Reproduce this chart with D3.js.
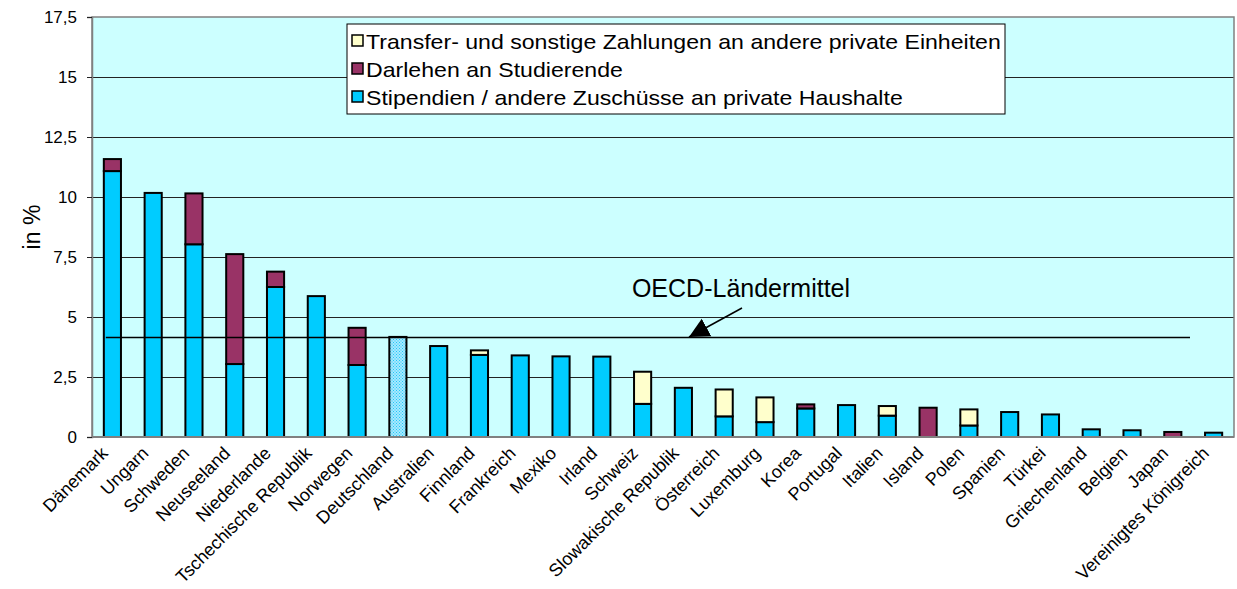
<!DOCTYPE html>
<html>
<head>
<meta charset="utf-8">
<script src="https://cdn.jsdelivr.net/npm/d3@7"></script>
<style>
  html, body { margin: 0; padding: 0; background: #fff; }
  svg { display: block; font-family: Arial, "Liberation Sans", sans-serif; }
</style>
</head>
<body>
<svg id="chart" width="1237" height="589"></svg>
<script>
// ── Data ─────────────────────────────────────────────
const countries = ['Dänemark','Ungarn','Schweden','Neuseeland','Niederlande','Tschechische Republik',
  'Norwegen','Deutschland','Australien','Finnland','Frankreich','Mexiko','Irland','Schweiz',
  'Slowakische Republik','Österreich','Luxemburg','Korea','Portugal','Italien','Island','Polen',
  'Spanien','Türkei','Griechenland','Belgien','Japan','Vereinigtes Königreich'];
const stipendien = [11.08,10.17,8.03,3.04,6.25,5.87,3.00,4.17,3.79,3.42,3.40,3.36,3.35,1.38,
  2.05,0.86,0.62,1.19,1.33,0.89,0,0.48,1.04,0.94,0.32,0.28,0,0.18];
const darlehen   = [0.50,0,2.12,4.58,0.64,0,1.55,0,0,0,0,0,0,0,
  0,0,0,0.17,0,0,1.22,0,0,0,0,0,0.21,0];
const transfer   = [0,0,0,0,0,0,0,0,0,0.19,0,0,0,1.34,
  0,1.12,1.03,0,0,0.40,0,0.67,0,0,0,0,0,0];
const oecdMean = 4.17;
const highlight = 'Deutschland';
const yTicks = [0, 2.5, 5, 7.5, 10, 12.5, 15, 17.5];

const seriesKeys   = ['stipendien','darlehen','transfer'];
const seriesLabels = ['Stipendien / andere Zuschüsse an private Haushalte','Darlehen an Studierende',
  'Transfer- und sonstige Zahlungen an andere private Einheiten'];
const seriesColors = ['#00ccff','#993366','#ffffcc'];

// ── Layout ───────────────────────────────────────────
const svg = d3.select('#chart');
const M = { left: 92, right: 1234, top: 17, bottom: 437 };

const rows = countries.map((c, i) => ({ country: c, stipendien: stipendien[i], darlehen: darlehen[i], transfer: transfer[i] }));
const stacked = d3.stack().keys(seriesKeys)(rows);

const x = d3.scaleBand().domain(countries).range([M.left, M.right]).paddingInner(0.58).paddingOuter(0.29);
const y = d3.scaleLinear().domain([0, 17.5]).range([M.bottom, M.top]);
const fmt = d3.formatLocale({ decimal: ',', thousands: '.', grouping: [3], currency: ['', '€'] }).format('~g');

// dotted fill for Deutschland
const defs = svg.append('defs');
const pat = defs.append('pattern').attr('id', 'dots').attr('width', 3).attr('height', 3).attr('patternUnits', 'userSpaceOnUse');
pat.append('rect').attr('width', 3).attr('height', 3).attr('fill', '#a6e9ff');
pat.append('rect').attr('width', 1).attr('height', 1).attr('fill', '#22c8f5');
pat.append('rect').attr('x', 1.5).attr('y', 1.5).attr('width', 1).attr('height', 1).attr('fill', '#22c8f5');

// plot background
svg.append('rect').attr('x', M.left).attr('y', M.top).attr('width', M.right - M.left).attr('height', M.bottom - M.top)
  .attr('fill', '#ccffff');

// grid
svg.append('g').selectAll('line').data(yTicks.filter(t => t > 0 && t < 17.5)).join('line')
  .attr('x1', M.left).attr('x2', M.right)
  .attr('y1', d => Math.round(y(d)) + 0.5).attr('y2', d => Math.round(y(d)) + 0.5)
  .attr('stroke', '#222').attr('stroke-width', 1);

// plot border
svg.append('rect').attr('x', M.left).attr('y', M.top).attr('width', M.right - M.left).attr('height', M.bottom - M.top)
  .attr('fill', 'none').attr('stroke', '#808080').attr('stroke-width', 1.5);

// y axis
const yAxis = svg.append('g').attr('transform', `translate(${M.left},0)`)
  .call(d3.axisLeft(y).tickValues(yTicks).tickFormat(fmt).tickSize(5).tickPadding(10));
yAxis.select('.domain').attr('stroke', '#808080').attr('stroke-width', 1.5);
yAxis.selectAll('.tick line').attr('stroke', '#222');
yAxis.selectAll('text').attr('font-size', 17).attr('fill', '#000').attr('font-family', 'Arial, "Liberation Sans", sans-serif');

svg.append('text').attr('transform', `translate(32,227) rotate(-90)`).attr('text-anchor', 'middle')
  .attr('dy', '0.35em').attr('font-size', 23).text('in %');

// bars
const layers = svg.append('g').selectAll('g').data(stacked).join('g')
  .attr('fill', (d, i) => seriesColors[i]);
layers.selectAll('rect').data(d => d.filter(s => s[1] - s[0] > 0)).join('rect')
  .attr('x', d => x(d.data.country))
  .attr('width', x.bandwidth())
  .attr('y', d => y(d[1]))
  .attr('height', d => y(d[0]) - y(d[1]))
  .attr('fill', d => d.data.country === highlight ? 'url(#dots)' : null)
  .attr('stroke', '#000')
  .attr('stroke-width', 2);

// x axis bottom line
svg.append('line').attr('x1', M.left).attr('x2', M.right).attr('y1', M.bottom).attr('y2', M.bottom)
  .attr('stroke', '#808080').attr('stroke-width', 2);

// x labels
svg.append('g').selectAll('text').data(countries).join('text')
  .attr('transform', d => `translate(${x(d) + x.bandwidth() / 2 - 8},${M.bottom + 13}) rotate(-45)`)
  .attr('text-anchor', 'end').attr('font-size', 18).attr('dy', '0.35em')
  .text(d => d);

// OECD mean line
const meanX0 = x(countries[0]) + 2, meanX1 = 1190;
svg.append('line').attr('x1', meanX0).attr('x2', meanX1)
  .attr('y1', Math.round(y(oecdMean)) + 0.5).attr('y2', Math.round(y(oecdMean)) + 0.5)
  .attr('stroke', '#000').attr('stroke-width', 1.5);

// annotation
defs.append('marker').attr('id', 'arrow').attr('viewBox', '0 0 10 10').attr('refX', 10).attr('refY', 5)
  .attr('markerWidth', 20).attr('markerHeight', 21).attr('orient', 'auto').attr('markerUnits', 'userSpaceOnUse')
  .append('path').attr('d', 'M0,0 L10,5 L0,10 Z').attr('fill', '#000');
svg.append('line').attr('x1', 742).attr('y1', 308).attr('x2', 689).attr('y2', Math.round(y(oecdMean)))
  .attr('stroke', '#000').attr('stroke-width', 1.5).attr('marker-end', 'url(#arrow)');
svg.append('text').attr('x', 741).attr('y', 297).attr('text-anchor', 'middle').attr('font-size', 25)
  .text('OECD-Ländermittel');

// legend
const lg = svg.append('g');
lg.append('rect').attr('x', 347).attr('y', 24).attr('width', 658).attr('height', 90)
  .attr('fill', '#fff').attr('stroke', '#000').attr('stroke-width', 1);
const order = [2, 1, 0];
order.forEach((si, r) => {
  const yy = 41 + r * 28;
  lg.append('rect').attr('x', 352).attr('y', yy - 6).attr('width', 11).attr('height', 11)
    .attr('fill', seriesColors[si]).attr('stroke', '#000').attr('stroke-width', 1.5);
  const t = lg.append('text').attr('x', 366).attr('y', yy).attr('dy', '0.36em').attr('font-size', 21)
    .text(seriesLabels[si]);
  const w = t.node().getComputedTextLength();
  t.attr('textLength', w * 1.1).attr('lengthAdjust', 'spacingAndGlyphs');
});
</script>
</body>
</html>
